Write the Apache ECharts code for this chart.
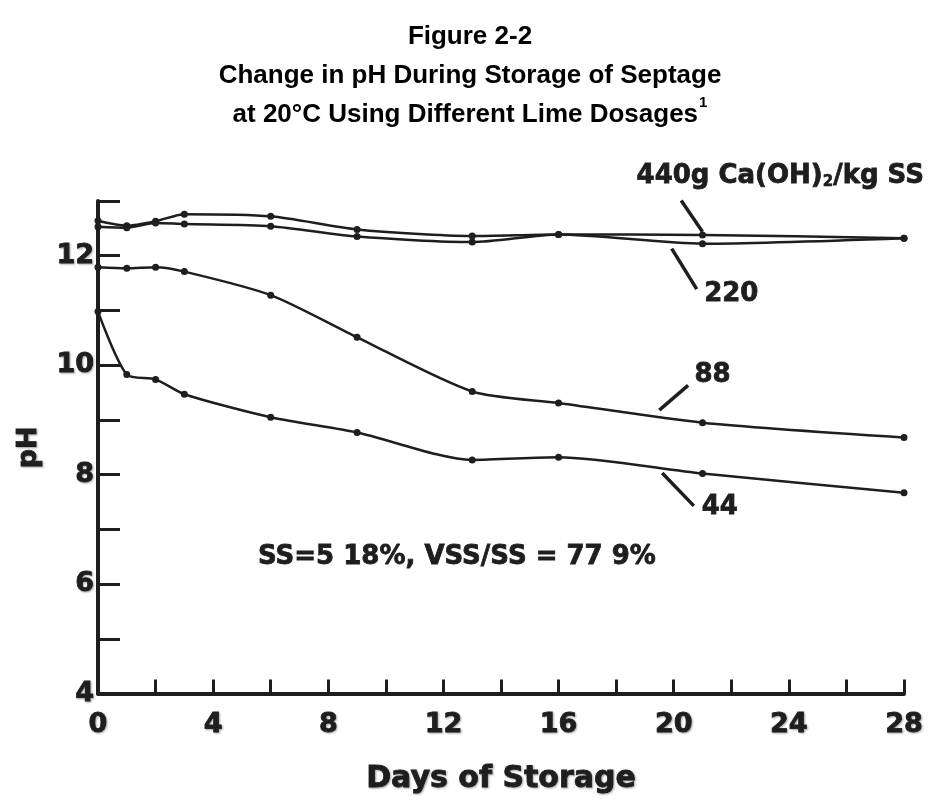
<!DOCTYPE html>
<html>
<head>
    <meta charset="utf-8">
    <title>Figure 2-2</title>
    <script type="text/javascript" src="https://cdn.jsdelivr.net/npm/echarts@6/dist/echarts.min.js"></script>
    <style>
        body { margin: 0; background: #fff; }
    </style>
</head>
<body>
<div id="chart" style="width:940px;height:800px;"></div>

<script type="text/javascript">
    // days of storage at which pH was measured
    var days = [0, 1, 2, 3, 6, 9, 13, 16, 21, 28];

    // pH for each lime dosage (g Ca(OH)2 / kg SS)
    var ph440 = [12.64, 12.55, 12.63, 12.76, 12.72, 12.48, 12.36, 12.39, 12.38, 12.32];
    var ph220 = [12.53, 12.51, 12.60, 12.58, 12.54, 12.35, 12.25, 12.39, 12.22, 12.32];
    var ph88  = [11.79, 11.77, 11.79, 11.71, 11.28, 10.51, 9.52, 9.31, 8.95, 8.68];
    var ph44  = [10.98, 9.83, 9.74, 9.47, 9.05, 8.77, 8.27, 8.32, 8.02, 7.67];

    var dosages = ['440', '220', '88', '44'];

    var ink = '#1e1e1e';
    var titleFont = 'Liberation Sans';
    var font = 'DejaVu Sans';

    function pairs(ys) {
        var out = [];
        for (var i = 0; i < days.length; i++) {
            out.push([days[i], ys[i]]);
        }
        return out;
    }

    function curve(name, ys) {
        return {
            name: name,
            type: 'line',
            data: pairs(ys),
            smooth: 0.25,
            symbol: 'circle',
            symbolSize: 7,
            itemStyle: { color: ink },
            lineStyle: { color: ink, width: 2.5 },
            silent: true
        };
    }

    // heavy, slightly smudged lettering like the photocopied original
    var heavy = {
        fontFamily: font, fontWeight: 'bold', color: ink,
        textBorderColor: ink, textBorderWidth: 0.8,
        textShadowColor: 'rgba(0,0,0,0.3)', textShadowBlur: 2, textShadowOffsetX: 1, textShadowOffsetY: 1
    };

    function heavyText(size, extra) {
        var s = Object.assign({}, heavy, { fontSize: size });
        return Object.assign(s, extra || {});
    }

    var myChart = echarts.init(document.getElementById('chart'));

    var option = {
        animation: false,
        backgroundColor: '#fff',
        title: {
            left: 'center',
            top: 12,
            text: '{t|Figure 2-2}\n{t|Change in pH During Storage of Septage}\n{t|at 20°C Using Different Lime Dosages}{sup|1}',
            textStyle: {
                rich: {
                    t: { fontFamily: titleFont, fontWeight: 'bold', fontSize: 26, color: '#000', lineHeight: 39 },
                    sup: { fontFamily: titleFont, fontWeight: 'bold', fontSize: 15, color: '#000', lineHeight: 39, verticalAlign: 'top', padding: [0, 0, 12, 1] }
                }
            }
        },
        grid: {
            left: 98,
            right: 36,
            top: 201,
            bottom: 99,
            containLabel: false
        },
        xAxis: {
            type: 'value',
            min: 0,
            max: 28,
            interval: 2,
            name: 'Days of Storage',
            nameLocation: 'middle',
            nameGap: 71,
            nameTextStyle: heavyText(30),
            axisLine: { lineStyle: { color: ink, width: 4 } },
            axisTick: { inside: true, length: 14, lineStyle: { color: ink, width: 3 } },
            axisLabel: heavyText(27, {
                margin: 18,
                formatter: function (v) { return v % 4 === 0 ? String(v) : ''; }
            }),
            splitLine: { show: false }
        },
        yAxis: {
            type: 'value',
            min: 4,
            max: 13,
            interval: 1,
            name: 'pH',
            nameLocation: 'middle',
            nameGap: 56,
            nameRotate: 90,
            nameTextStyle: heavyText(27),
            axisLine: { lineStyle: { color: ink, width: 4 } },
            axisTick: { inside: true, length: 22, lineStyle: { color: ink, width: 3 } },
            axisLabel: heavyText(27, {
                margin: 4,
                formatter: function (v) { return v % 2 === 0 ? String(v) : ''; }
            }),
            splitLine: { show: false }
        },
        series: [
            curve(dosages[0], ph440),
            curve(dosages[1], ph220),
            curve(dosages[2], ph88),
            curve(dosages[3], ph44)
        ]
    };
    myChart.setOption(option);

    // annotations placed in data space (day, pH)
    function px(d, p) {
        return myChart.convertToPixel({ gridIndex: 0 }, [d, p]);
    }

    function leader(a, b) {
        var p1 = px(a[0], a[1]);
        var p2 = px(b[0], b[1]);
        return {
            type: 'line',
            shape: { x1: p1[0], y1: p1[1], x2: p2[0], y2: p2[1] },
            style: { stroke: ink, lineWidth: 3.5 },
            silent: true
        };
    }

    function label(d, p, text, size, align, rich) {
        var c = px(d, p);
        return {
            type: 'text',
            x: c[0],
            y: c[1],
            style: {
                text: text,
                fontFamily: font,
                fontWeight: 'bold',
                fontSize: size,
                fill: ink,
                stroke: ink,
                lineWidth: 0.8,
                shadowColor: 'rgba(0,0,0,0.3)',
                shadowBlur: 2,
                shadowOffsetX: 1,
                shadowOffsetY: 1,
                align: align || 'center',
                verticalAlign: 'middle',
                rich: rich
            },
            silent: true
        };
    }

    var subRich = {
        a: { fontFamily: font, fontWeight: 'bold', fontSize: 26, fill: ink, stroke: ink, lineWidth: 0.8 },
        s: { fontFamily: font, fontWeight: 'bold', fontSize: 15, fill: ink, stroke: ink, lineWidth: 0.6, padding: [11, 0, 0, 0] }
    };

    myChart.setOption({
        graphic: [
            label(23.7, 13.45, '{a|440g Ca(OH)}{s|2}{a|/kg SS}', 26, 'center', subRich),
            leader([20.26, 13.01], [21.0, 12.44]),
            leader([19.93, 12.13], [20.8, 11.39]),
            label(22.0, 11.30, '220', 26),
            leader([19.5, 9.18], [20.5, 9.63]),
            label(21.35, 9.81, '88', 26),
            leader([19.6, 8.03], [20.7, 7.43]),
            label(21.6, 7.40, '44', 26),
            label(5.56, 6.5, 'SS=5 18%, VSS/SS = 77 9%', 26, 'left')
        ]
    });
</script>
</body>
</html>
